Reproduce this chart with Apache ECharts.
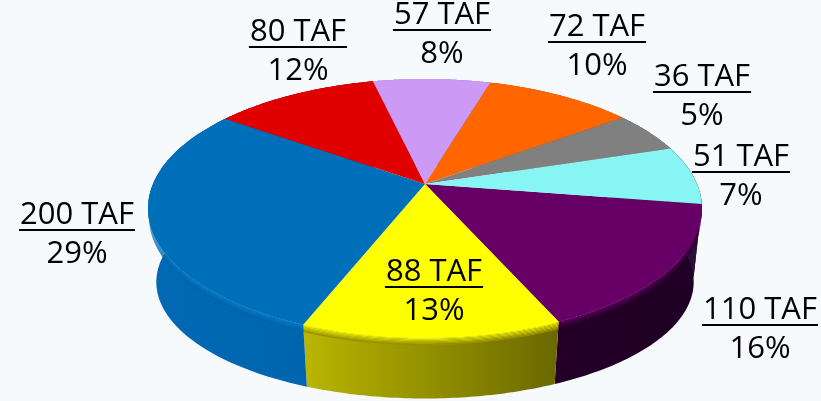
<!DOCTYPE html>
<html>
<head>
<meta charset="utf-8">
<style>html,body{margin:0;padding:0;background:#f7fafd}#main{width:821px;height:401px}</style>
<script src="https://cdn.jsdelivr.net/npm/echarts@6/dist/echarts.min.js"></script>
</head>
<body>
<div id="main"></div>
<script>
// clockwise from the cyan/purple boundary
const taf = [110, 88, 200, 80, 57, 72, 36, 51];
const percent = [16, 13, 29, 12, 8, 10, 5, 7];
const topColors = ['#660066', '#ffff00', '#006fba', '#e00000', '#cc99f5', '#ff6600', '#808080', '#88f5f5'];
const sideLeft = ['#300038', '#eae500', '#0069b4', '#900000', '#8060a0', '#a04000', '#505050', '#2a1038'];
const sideRight = ['#200024', '#3e3c00', '#005c9e', '#900000', '#8060a0', '#a04000', '#505050', '#2a1038'];
const seamColors = ['#660066', '#ffff00', '#0b7fcf', '#e00000', '#cc99f5', '#ff6600', '#808080', '#4a5a70'];
// centre x and underline y of each label
const labelSpots = [[760, 325], [434, 287], [77, 230], [298, 47], [442, 30], [597, 42], [702, 92], [741, 172]];

const total = taf.reduce((a, b) => a + b, 0);
const startDeg = -8.95;
const cx = 425, cy = 184, rx = 272, ry = 124.8, persp = 0.189;
const depth = 76;
const labelFont = '31px "Open Sans"';

const chart = echarts.init(document.getElementById('main'));

function sliceAngles(i) {
	const before = taf.slice(0, i).reduce((a, b) => a + b, 0);
	return [before, before + taf[i]].map(v => (startDeg - v / total * 360) * Math.PI / 180);
}

// rim point of the tilted disc, level 0 is the top face and 1 the bottom
function rim(theta, level) {
	const v = Math.sin(theta);
	const w = 1 + persp * v;
	return [
		cx + rx * Math.cos(theta) / w * (1 - 0.03 * level),
		cy - ry * v / w * (1 - 0.1 * level) + depth * level
	];
}

function arc(i, level) {
	const [a0, a1] = sliceAngles(i);
	const steps = 60;
	const pts = [];
	for (let s = 0; s <= steps; s++) {
		pts.push(rim(a0 + (a1 - a0) * s / steps, level));
	}
	return pts;
}

function band(i, l0, l1) {
	return arc(i, l0).concat(arc(i, l1).reverse());
}

function toRgb(c) {
	return [1, 3, 5].map(k => parseInt(c.substr(k, 2), 16));
}

function mix(c1, c2, t) {
	const a = toRgb(c1), b = toRgb(c2);
	return '#' + a.map((x, k) => Math.round(x + (b[k] - x) * t).toString(16).padStart(2, '0')).join('');
}

function renderSide(params) {
	const i = params.dataIndex;
	return {
		type: 'polygon',
		shape: { points: band(i, 0, 1) },
		style: {
			fill: new echarts.graphic.LinearGradient(150, 0, 700, 0, [
				{ offset: 0, color: sideLeft[i] },
				{ offset: 1, color: sideRight[i] }
			], true)
		}
	};
}

function renderSeam(params) {
	const i = params.dataIndex;
	const layers = 6, children = [];
	const sideMid = mix(sideLeft[i], sideRight[i], 0.5);
	for (let k = 0; k < layers; k++) {
		children.push({
			type: 'polygon',
			shape: { points: band(i, k * 0.02, (k + 1) * 0.02) },
			style: { fill: mix(seamColors[i], sideMid, (k + 1) / layers) }
		});
	}
	return { type: 'group', children };
}

function renderTop(params) {
	const i = params.dataIndex;
	return {
		type: 'polygon',
		shape: { points: [[cx, cy]].concat(arc(i, 0)) },
		style: { fill: topColors[i] }
	};
}

const measure = document.createElement('canvas').getContext('2d');

function renderLabel(params) {
	const i = params.dataIndex;
	const [x, y] = labelSpots[i];
	const name = taf[i] + ' TAF';
	measure.font = labelFont;
	const half = measure.measureText(name).width / 2 + 1;
	return {
		type: 'group',
		children: [
			{ type: 'text', style: { text: name, x, y: y - 15, font: labelFont, fill: '#000', align: 'center', verticalAlign: 'middle' } },
			{ type: 'line', shape: { x1: x - half, y1: y, x2: x + half, y2: y }, style: { stroke: '#000', lineWidth: 2 } },
			{ type: 'text', style: { text: percent[i] + '%', x, y: y + 24, font: labelFont, fill: '#000', align: 'center', verticalAlign: 'middle' } }
		]
	};
}

const rows = taf.map(v => [v]);
const layer = (renderItem, z) => ({
	type: 'custom', coordinateSystem: 'none', data: rows, renderItem, z, silent: true, animation: false
});

chart.setOption({
	backgroundColor: '#f7fafd',
	animation: false,
	series: [layer(renderSide, 1), layer(renderSeam, 2), layer(renderTop, 3), layer(renderLabel, 4)]
});

window.addEventListener('resize', () => {
	chart.resize();
});
</script>
</body>
</html>
